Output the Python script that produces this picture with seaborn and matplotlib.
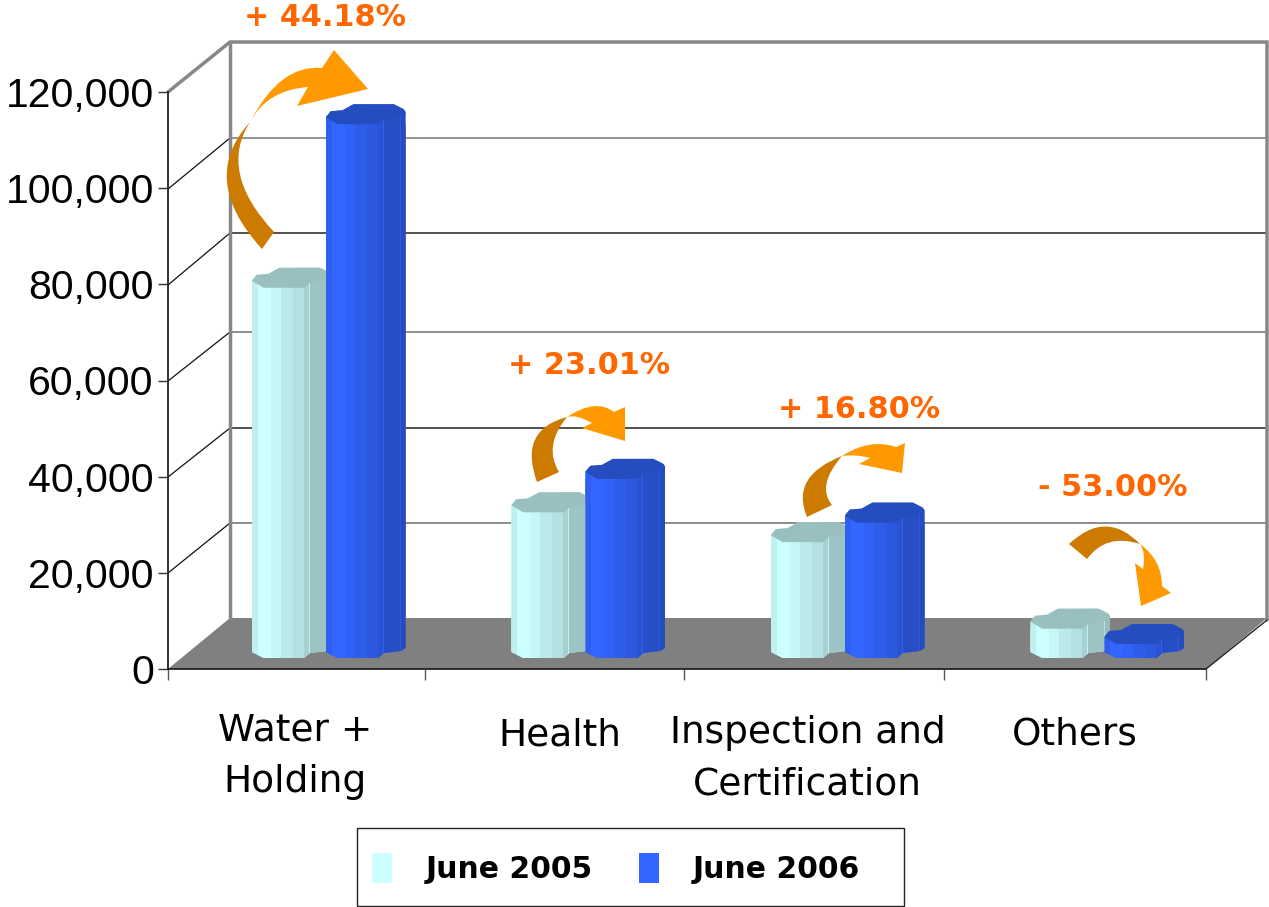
import numpy as np
import pandas as pd
import matplotlib
matplotlib.use("Agg")
import matplotlib.pyplot as plt
import seaborn as sns
from matplotlib.path import Path
from matplotlib.patches import PathPatch, Polygon, Rectangle
from matplotlib.transforms import ScaledTranslation
from matplotlib.colors import to_rgb

categories = ["Water +\nHolding", "Health", "Inspection and\nCertification", "Others"]
june_2005 = [77000, 30300, 24100, 6100]
june_2006 = [111000, 37250, 28150, 2900]
series_names = ["June 2005", "June 2006"]
series_colors = ["#CCFFFF", "#3366FF"]
change_labels = ["+ 44.18%", "+ 23.01%", "+ 16.80%", "- 53.00%"]
y_ticks = [0, 20000, 40000, 60000, 80000, 100000, 120000]

W, H = 1269, 907
sns.set_style("white")
plt.rcParams["text.color"] = "black"
plt.rcParams["xtick.color"] = "black"
plt.rcParams["ytick.color"] = "black"
fig = plt.figure(figsize=(W / 100, H / 100), dpi=100, facecolor="white")


def rect_px(l, t, r, b):
    return [l / W, (H - b) / H, (r - l) / W, (b - t) / H]


def pixel_axes(z):
    a = fig.add_axes([0, 0, 1, 1], zorder=z)
    a.set_xlim(0, W)
    a.set_ylim(H, 0)
    a.set_autoscale_on(False)
    a.set_axis_off()
    a.patch.set_visible(False)
    return a


# ---- 3-D room behind the chart
bg = pixel_axes(0)
bg.add_patch(Polygon([(168, 669), (230, 618), (1267, 618), (1206, 669)], fc="#808080", ec="none"))
wall_gray = "#878787"
wall_y = [523, 428, 332, 233, 138]
wall_c = ["#6e6e6e", "#222222", "#6e6e6e", "#222222", "#777777"]
tick_y = [573, 477, 381, 285, 189]
for yb, c, y0 in zip(wall_y, wall_c, tick_y):
    bg.plot([230, 1267], [yb, yb], color=c, lw=1.1, solid_capstyle="butt")
    bg.plot([168, 230], [y0, yb], color="#111111", lw=0.9)
bg.plot([168, 230, 1267, 1267], [92, 42, 42, 620], color=wall_gray, lw=2.5, solid_joinstyle="miter")
bg.plot([230, 230], [42, 618], color=wall_gray, lw=2.5)
bg.plot([1206, 1267], [669, 620], color="#222222", lw=1.0)

# ---- value axis
ax = fig.add_axes(rect_px(168, 92, 1206, 669), zorder=1)
ax.patch.set_visible(False)
ax.set_xlim(-0.5, 3.5)
ax.set_ylim(0, 120000)
ax.set_yticks(y_ticks)
ax.set_yticklabels([f"{v:,}" for v in y_ticks], fontsize=29.5, family="Liberation Sans", color="black")
ax.tick_params(axis="y", left=True, length=7.2, width=1.0, color="#333333", pad=3)
ax.set_xticks(range(4))
ax.set_xticklabels(categories, fontsize=27, family="DejaVu Sans", linespacing=1.56, color="black")
ax.set_xticks([-0.5, 0.49, 1.49, 2.49, 3.5], minor=True)
ax.tick_params(axis="x", which="major", bottom=False, length=0, pad=31)
ax.tick_params(axis="x", which="minor", bottom=True, length=8, width=1.0, color="#555555")
for lab, (dx, dy) in zip(ax.get_xticklabels(), [(-3, 0), (3, -5), (-9, -3), (-1, -4)]):
    lab.set_transform(lab.get_transform() + ScaledTranslation(dx / 100, dy / 100, fig.dpi_scale_trans))
for s in ("top", "right"):
    ax.spines[s].set_visible(False)
for s in ("left", "bottom"):
    ax.spines[s].set_color("#222222")
    ax.spines[s].set_linewidth(1.3)

# ---- bars: same scale as the value axis, moved onto the floor
ax_bars = fig.add_axes(rect_px(168 + 31, 92 - 11, 1206 + 31, 669 - 11), zorder=2)
df = pd.DataFrame({
    "category": categories * 2,
    "series": [series_names[0]] * 4 + [series_names[1]] * 4,
    "value": june_2005 + june_2006,
})
sns.barplot(data=df, x="category", y="value", hue="series", hue_order=series_names,
            palette=series_colors, saturation=1, width=0.57, gap=-0.08, linewidth=0,
            ax=ax_bars)
ax_bars.set_xlim(-0.5, 3.5)
ax_bars.set_ylim(0, 120000)
ax_bars.set_axis_off()
ax_bars.patch.set_visible(False)
sns.move_legend(ax_bars, loc="lower left", bbox_to_anchor=(345 / W, (H - 911) / H),
                bbox_transform=fig.transFigure, ncol=2, frameon=False, title=None,
                handlelength=0.68, handleheight=1.2, handletextpad=1.12,
                columnspacing=1.55, labelcolor="black",
                prop={"family": "DejaVu Sans", "weight": "bold", "size": 21.5})

# ---- prism shading over each bar
fg = pixel_axes(3)
edges = [0, 6, 19, 29, 42, 53, 58, 59, 75, 76, 81]
shade = [0.94, 1.0, 0.97, 0.92, 0.88, 0.82, 0.95, 0.77, 0.88, 0.74]
top_pts = [(0, 7), (5, 13), (17, 14), (28, 20), (69, 20), (79, 15), (81, 12), (76, 8), (59, 5), (53, 0), (12, 0)]
base_pts = [(81, 10), (76, 7), (59, 5), (53, 0), (12, 0), (0, 6)]

z = 1
for container, col in zip(ax_bars.containers, series_colors):
    rgb = np.array(to_rgb(col))
    for rect in container:
        x0, y0 = ax_bars.transData.transform((rect.get_x(), 0))
        x1, y1 = ax_bars.transData.transform((rect.get_x() + rect.get_width(), rect.get_height()))
        left, wid, base, top = x0, x1 - x0, H - y0, H - y1
        sx = wid / 81
        sil = [(left + dx * sx, base - dy) for dx, dy in base_pts]
        sil += [(left, top - 7), (left + 5 * sx, top - 13), (left + 17 * sx, top - 14), (left + 28 * sx, top - 20),
                (left + 69 * sx, top - 20), (left + 79 * sx, top - 15), (left + 81 * sx, top - 12)]
        clip = PathPatch(Path(sil + [sil[0]], closed=True), fc="none", ec="none", zorder=z)
        fg.add_patch(clip)
        rect.set_clip_path(clip)
        mult = np.ones(81)
        for a, b, m in zip(edges[:-1], edges[1:], shade):
            mult[a:b] = m
        strip = (rgb[None, None, :] * mult[None, :, None]).clip(0, 1)
        im = fg.imshow(strip, extent=(left, left + wid, base, top - 20), aspect="auto",
                       interpolation="nearest", zorder=z)
        im.set_clip_path(clip)
        fg.add_patch(Polygon([(left + dx * sx, top - dy) for dx, dy in top_pts],
                             fc=rgb * 0.75, ec="none", zorder=z + 0.1))
        z += 1
fg.set_xlim(0, W)
fg.set_ylim(H, 0)

# ---- curved change arrows
DARK, BRIGHT = "#CC7A00", "#FF9900"
arrows = [
    dict(tail_in=(274, 232), tail_out=(262, 249), ctrl_out=(198, 179), fold=(250, 122), ctrl_in=(218, 172),
         o_ctrl=(280, 64), head=[(322, 68), (334, 50), (368, 89), (297, 106), (308, 87)], i_ctrl=(267, 90)),
    dict(tail_in=(559, 472), tail_out=(537, 482), ctrl_out=(518, 430), fold=(567, 417), ctrl_in=(543, 446),
         o_ctrl=(596, 398), head=[(614, 412), (625, 407), (625, 441), (582, 428), (592, 423)], i_ctrl=(576, 414)),
    dict(tail_in=(832, 505), tail_out=(807, 517), ctrl_out=(790, 476), fold=(842, 456), ctrl_in=(816, 486),
         o_ctrl=(870, 438), head=[(896, 447), (905, 443), (902, 473), (859, 464), (870, 458)], i_ctrl=(856, 454)),
    dict(tail_in=(1087, 559), tail_out=(1069, 544), ctrl_out=(1106, 509), fold=(1140, 544), ctrl_in=(1106, 533),
         o_ctrl=(1162, 560), head=[(1162, 586), (1171, 593), (1141, 606), (1135, 563), (1143, 569)], i_ctrl=(1146, 552)),
]
for a in arrows:
    dark = Path([a["tail_in"], a["tail_out"], a["ctrl_out"], a["fold"], a["ctrl_in"], a["tail_in"], a["tail_in"]],
                [Path.MOVETO, Path.LINETO, Path.CURVE3, Path.CURVE3, Path.CURVE3, Path.CURVE3, Path.CLOSEPOLY])
    fg.add_patch(PathPatch(dark, fc=DARK, ec="none", zorder=50))
    hd = a["head"]
    verts = [a["fold"], a["o_ctrl"], hd[0], hd[1], hd[2], hd[3], hd[4], a["i_ctrl"], a["fold"], a["fold"]]
    codes = [Path.MOVETO, Path.CURVE3, Path.CURVE3, Path.LINETO, Path.LINETO, Path.LINETO, Path.LINETO,
             Path.CURVE3, Path.CURVE3, Path.CLOSEPOLY]
    fg.add_patch(PathPatch(Path(verts, codes), fc=BRIGHT, ec="none", zorder=51))

for txt, (tx, ty) in zip(change_labels, [(325, 18), (589, 366), (859, 409), (1113, 487)]):
    fg.text(tx, ty, txt, color="#FF6600", fontsize=21.8, fontweight="bold", family="DejaVu Sans",
            ha="center", va="center", zorder=60)

# ---- legend frame
fg.add_patch(Rectangle((356.5, 828), 547, 78, fc="none", ec="#222222", lw=1.0, zorder=60))

fig.savefig("out.png", dpi=100)
